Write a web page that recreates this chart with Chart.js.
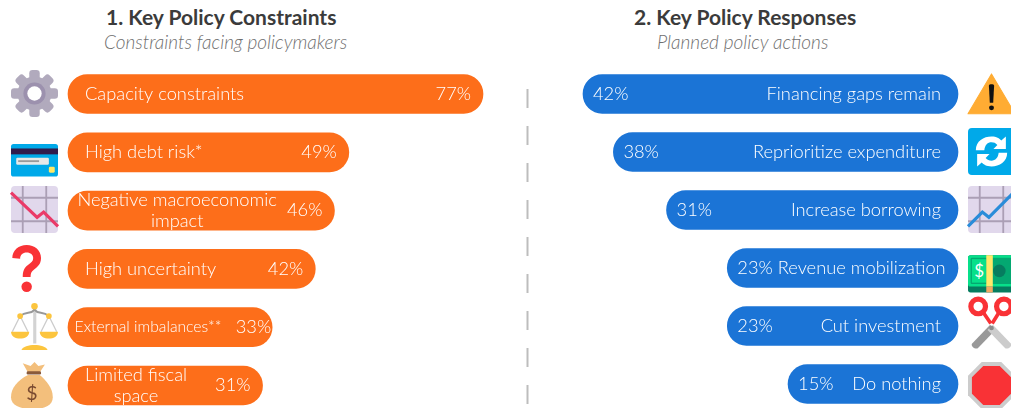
<!DOCTYPE html>
<html>
<head>
<meta charset="utf-8">
<script src="https://cdn.jsdelivr.net/npm/chart.js@4"></script>
<style>
  html, body { margin: 0; padding: 0; background: #fff; width: 1011px; height: 408px; overflow: hidden; }
  body { position: relative; font-family: Lato, sans-serif; }
  .title { position: absolute; top: 5px; font-size: 21px; font-weight: 700; color: #3b3b3b; white-space: nowrap; line-height: 24px; }
  .sub { position: absolute; top: 32px; font-size: 19px; font-style: italic; font-weight: 300; color: #6f6f6f; white-space: nowrap; line-height: 20px; }
  .panel { position: absolute; top: 60px; height: 348px; }
  .icon { position: absolute; width: 47px; height: 47px; overflow: visible; }
  #divider { position: absolute; left: 526px; top: 0; }
</style>
</head>
<body>
<div class="title" style="left:106px">1. Key Policy Constraints</div>
<div class="sub" style="left:104px">Constraints facing policymakers</div>
<div class="title" style="left:634px">2. Key Policy Responses</div>
<div class="sub" style="left:657px">Planned policy actions</div>

<svg id="divider" width="4" height="408"><line x1="1.5" y1="89" x2="1.5" y2="404" stroke="#bdbdbd" stroke-width="2" stroke-dasharray="19 18"/></svg>

<div class="panel" style="left:0;width:510px"><canvas id="constraints"></canvas></div>
<div class="panel" style="left:520px;width:491px"><canvas id="responses"></canvas></div>

<script>
// Data
const constraintLabels = ['Capacity constraints', 'High debt risk*', ['Negative macroeconomic', 'impact'], 'High uncertainty', 'External imbalances**', ['Limited fiscal', 'space']];
const constraintValues = [77, 49, 46, 42, 33, 31];
const responseLabels = ['Financing gaps remain', 'Reprioritize expenditure', 'Increase borrowing', 'Revenue mobilization', 'Cut investment', 'Do nothing'];
const responseValues = [42, 38, 31, 23, 23, 15];

const ORANGE = '#fd6e1a';
const BLUE = '#1b74d6';
const FONT_SIZE = 18.3;
const LINE_H = 20.5;

function fontAt(size) {
  return '300 ' + size + 'px Lato, sans-serif';
}

function asLines(label) {
  return Array.isArray(label) ? label : [label];
}

// Writes the category name and the percentage inside each bar
const insideText = {
  id: 'insideText',
  afterDatasetsDraw(chart) {
    const c = chart.ctx;
    const meta = chart.getDatasetMeta(0);
    const mirrored = chart.options.scales.x.reverse;
    c.save();
    c.fillStyle = '#fff';
    c.textBaseline = 'middle';
    meta.data.forEach((bar, i) => {
      c.font = fontAt(FONT_SIZE);
      const lines = asLines(chart.data.labels[i]);
      const pct = chart.data.datasets[0].data[i] + '%';
      const pctW = c.measureText(pct).width;
      let labelW = Math.max(...lines.map(l => c.measureText(l).width));
      const left = Math.min(bar.x, bar.base);
      const right = Math.max(bar.x, bar.base);
      let labelX, pctX, labelSize = FONT_SIZE;
      if (mirrored) {
        pctX = left + 10;
        labelX = Math.max(right - 17 - labelW, pctX + pctW + 5);
      } else {
        // long names shrink a little and the number moves up to the pill's end
        const room = right - left - pctW - 22;
        let endGap = 12;
        if (labelW > room) {
          labelSize = FONT_SIZE * room / labelW;
          labelW = room;
          endGap = 1;
        }
        const pad = Math.min(17, 0.3 * (right - left - labelW - pctW));
        labelX = left + pad;
        pctX = right - endGap - pctW;
      }
      c.textAlign = 'left';
      c.fillText(pct, pctX, bar.y);
      c.font = fontAt(labelSize);
      c.textAlign = 'center';
      lines.forEach((line, k) => {
        const y = bar.y + (k - (lines.length - 1) / 2) * LINE_H;
        if (lines.length === 1) {
          c.textAlign = 'left';
          c.fillText(line, labelX, y);
        } else {
          c.fillText(line, labelX + labelW / 2, y);
        }
      });
    });
    c.restore();
  }
};

function makePanel(id, labels, values, color, base, max, reverse, pad) {
  new Chart(document.getElementById(id), {
    type: 'bar',
    plugins: [insideText],
    data: {
      labels: labels,
      datasets: [{
        data: values,
        base: base,
        backgroundColor: color,
        borderRadius: 19.5,
        borderSkipped: false,
        barThickness: 39,
        clip: false
      }]
    },
    options: {
      indexAxis: 'y',
      responsive: true,
      maintainAspectRatio: false,
      animation: false,
      layout: { padding: pad },
      plugins: { legend: { display: false }, tooltip: { enabled: false } },
      scales: {
        x: { display: false, min: base, max: max, reverse: reverse },
        y: { display: false, offset: false }
      }
    }
  });
}

makePanel('constraints', constraintLabels, constraintValues, ORANGE, -9.6, 77, false, { left: 68, right: 27, top: 34, bottom: 22.5 });
makePanel('responses', responseLabels, responseValues, BLUE, -7.38, 42, true, { left: 63, right: 53, top: 34, bottom: 24 });

// Emoji style icons next to the bars
const gridPaper = '<rect width="36" height="36" rx="3" fill="#e1d8ec"/><path d="M0 9h36M0 27h36M9 0v36M27 0v36" stroke="#ab9fb5" stroke-width="1.4" fill="none"/>';
const icons = [
  [11, 70, '<g fill="#b1aabd"><circle cx="18" cy="18" r="13"/>' +
    [0, 45, 90, 135, 180, 225, 270, 315].map(a => `<rect x="14" y="0" width="8" height="10" rx="2.5" transform="rotate(${a} 18 18)"/>`).join('') +
    '</g><circle cx="18" cy="18" r="8.5" fill="#9c91ae"/><circle cx="18" cy="18" r="5.5" fill="#fff"/>'],
  [11, 140, '<rect y="3" width="36" height="25" rx="2" fill="#00a9e9"/><rect y="6.5" width="36" height="4.5" fill="#311b4c"/><rect x="4" y="13.5" width="25" height="5.5" rx="1" fill="#e8e8e8"/><rect x="5.5" y="15.5" width="16" height="1.4" fill="#9a9a9a"/><rect x="29" y="20.5" width="4.5" height="4.5" rx="1" fill="#ffe866"/>'],
  [11, 186, gridPaper + '<path d="M0 5L20 24L25 20L36 31" stroke="#ea3a68" stroke-width="2.4" fill="none"/>'],
  [11, 245, '<path d="M1 10C1 4 6 0 12 0C18 0 23 4 23 10C23 15 20 17 17.5 19C15.5 20.5 15 22 15 24.5H9C9 20 10 17.5 13 15.3C15.5 13.5 17 12.5 17 10C17 7.5 15 5.7 12 5.7C9 5.7 7 7.5 7 10.5Z" fill="#f93236"/><circle cx="12" cy="32" r="4" fill="#f93236"/>'],
  [11, 303, '<rect x="17" y="2" width="2.4" height="29" fill="#d3d3d3"/><path d="M7 10C12 6 15 9 18 5C21 9 24 6 29 10" stroke="#999" stroke-width="1.6" fill="none"/><path d="M7 10L1 22M7 10L13 22M29 10L23 22M29 10L35 22" stroke="#ccc" stroke-width="1" fill="none"/><path d="M0 22H14C14 29 0 29 0 22ZM22 22H36C36 29 22 29 22 22Z" fill="#fcc53e"/><path d="M8 36C10 31 26 31 28 36Z" fill="#fcc53e"/><circle cx="18" cy="2.5" r="2.5" fill="#fcc53e"/><circle cx="7" cy="10" r="2.2" fill="#fcc53e"/><circle cx="29" cy="10" r="2.2" fill="#fcc53e"/>'],
  [11, 362, '<path d="M9 1L15 3L18 0L21 3L26 2L22 8H13Z" fill="#f3bf7c"/><rect x="12" y="7" width="11" height="2.6" rx="1" fill="#8a5a3a"/><path d="M13 10C5 14 0 20 0 27C0 33 7 36 15 36H18C26 36 32 33 32 27C32 20 27 14 22 10Z" fill="#f3bf7c"/><text x="16" y="29" font-family="Lato, sans-serif" font-size="15" font-weight="400" text-anchor="middle" fill="#7a4a30">$</text>'],
  [968, 70, '<path d="M18 3L36 33.5H0Z" fill="#ffac33" stroke="#ffac33" stroke-linejoin="round" stroke-width="0.8"/><path d="M16 12C16 10.5 20 10.5 20 12L19.3 25H16.7Z" fill="#111"/><circle cx="18" cy="29" r="1.9" fill="#111"/>'],
  [968, 128, '<rect width="36" height="36" rx="3" fill="#00a9e9"/><path d="M6 17C6 10 12 6.5 18 6.5C22 6.5 24 8 25.5 9.5L29 6.5V16H19.5L22.5 13C21 11.5 20 11 18 11C15 11 13 13 12.5 17Z" fill="#fff"/><path d="M30 19C30 26 24 29.5 18 29.5C14 29.5 12 28 10.5 26.5L7 29.5V20H16.5L13.5 23C15 24.5 16 25 18 25C21 25 23 23 23.5 19Z" fill="#fff"/>'],
  [968, 186, gridPaper + '<path d="M0 31L11 20L16 24L36 4" stroke="#2a8cd9" stroke-width="2.4" fill="none"/>'],
  [968, 250, '<rect y="4" width="36" height="28.5" rx="2" fill="#067c5f"/><rect y="4" width="36" height="24" rx="2" fill="#07e08a"/><rect x="2" y="6" width="32" height="20" rx="1" fill="#04a871"/><rect x="3" y="7" width="11" height="18" fill="#07e08a"/><rect x="14" y="4" width="5" height="24" fill="#ffe96b"/><rect x="14" y="28" width="5" height="4.5" fill="#f4a862"/><circle cx="24" cy="16" r="4.8" fill="#067c5f"/><text x="8.5" y="21" font-family="Lato, sans-serif" font-size="13" font-weight="400" text-anchor="middle" fill="#fff">$</text>'],
  [968, 296, '<path d="M3 36.5L17 22L21 26L7.5 40C5.5 41 2 38.5 3 36.5Z" fill="#999"/><path d="M33 36.5L19 22L15 26L28.5 40C30.5 41 34 38.5 33 36.5Z" fill="#ccc"/><circle cx="18" cy="24.5" r="1.8" fill="#8a8a8a"/><g fill="none" stroke="#f93236" stroke-width="4"><circle cx="7.8" cy="8" r="5.6"/><circle cx="27.5" cy="8" r="5.6"/></g><path d="M12 13L17.5 21M23.5 13L18.5 21" stroke="#f93236" stroke-width="2.8"/>'],
  [968, 362, '<path d="M10.5 0H25.5L36 10.5V25.5L25.5 36H10.5L0 25.5V10.5Z" fill="#ccc"/><path d="M11.7 3H24.3L33 11.7V24.3L24.3 33H11.7L3 24.3V11.7Z" fill="#f93236"/>']
];
icons.forEach(([x, y, body]) => {
  document.body.insertAdjacentHTML('beforeend',
    `<svg class="icon" style="left:${x}px;top:${y}px" viewBox="0 0 36 36">${body}</svg>`);
});
</script>
</body>
</html>
